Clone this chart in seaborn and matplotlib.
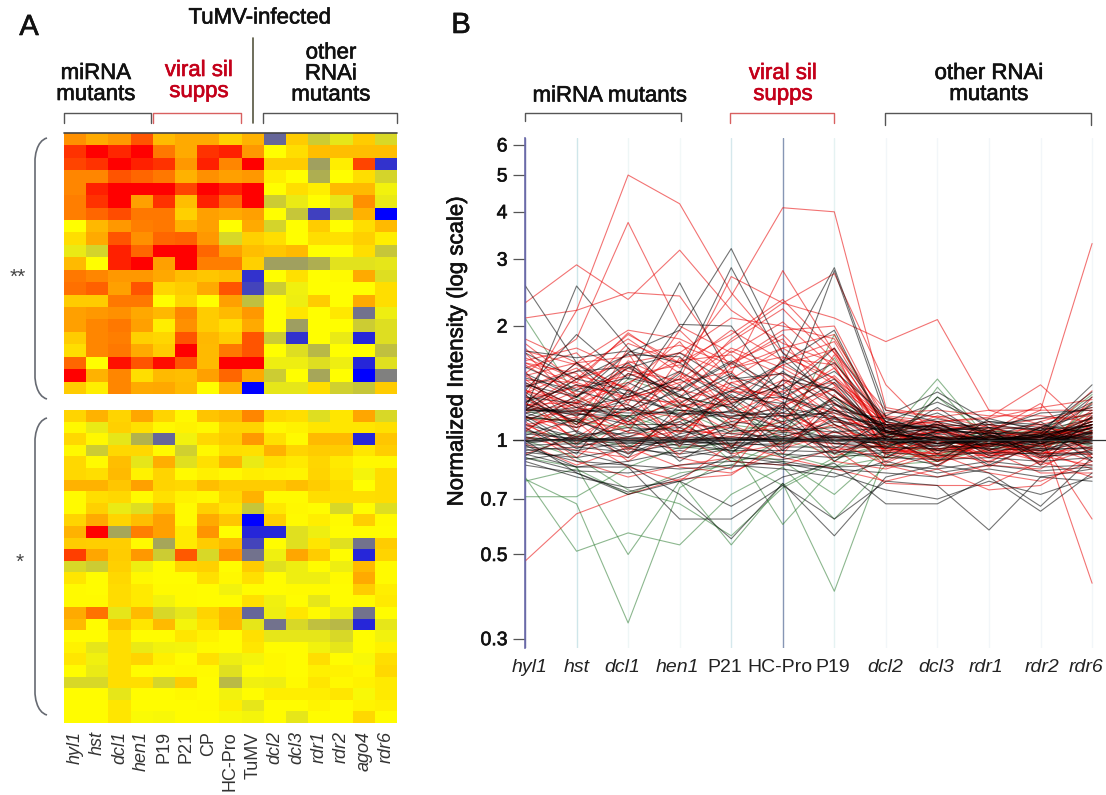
import matplotlib
matplotlib.use("Agg")
import matplotlib.pyplot as plt
import matplotlib.patheffects as pe
from matplotlib.colors import LinearSegmentedColormap
from matplotlib.path import Path
from matplotlib.patches import PathPatch
import seaborn as sns
import pandas as pd
import numpy as np

# heatmap columns
heat_labels = ["hyl1", "hst", "dcl1", "hen1", "P19", "P21", "CP", "HC-Pro", "TuMV",
               "dcl2", "dcl3", "rdr1", "rdr2", "ago4", "rdr6"]
upright = ["P19", "P21", "CP", "HC-Pro", "TuMV"]

# values run from -10 (blue) through 0 (yellow) to 10 (red)
heat_top = [
    [4.3, 3.3, 4, 6.7, 2.7, 3.3, 3.3, 1.8, 3, -6, 2, -2, -1, 2, -1.5],
    [8, 10, 8.5, 10, 5.3, 3.3, 8, 8.7, 4, 0, 1.3, 2.5, 2.5, 2.5, 2.5],
    [7.3, 8, 10, 8.7, 8, 4, 8.7, 4.7, 10, 2, 2, -3.7, 0.7, 7.3, -8],
    [4.7, 4.7, 6.7, 6, 5.3, 3, 4.3, 3.7, 4, 0.7, 0, -3.2, 0, 1.3, -1.7],
    [4.7, 8.7, 10, 10, 10, 7.3, 10, 8.7, 10, 0, 1.3, 0.7, 2.7, 2.7, -0.5],
    [5, 8, 10, 3.7, 8, 2.5, 8.7, 6, 10, -2, -0.8, 0, -1, 4.3, -0.8],
    [5, 6, 7, 5.3, 5.3, 1.8, 3.7, 3.3, 3.7, 0, -2.2, -7.5, -2.5, 3, -10],
    [0, 2.8, 4, 5, 5.3, 3, 3.7, 0, 3.3, -1.7, 0, 2, 0, 1.3, 2.7],
    [1.3, 3.3, 6.7, 4.3, 6, 6.2, 4, -1.5, 1.8, 1.3, 0, 1.3, 1.2, 1.8, 0.7],
    [-0.8, -1.7, 8.7, 6, 10, 10, 6, 3.7, 2.5, 2.2, 2.7, 0, 0, 1.3, -2.2],
    [2.7, 0, 8.7, 10, 3.7, 10, 5, 5, 1.8, -3.7, -3.7, -3.2, -1.1, -1.1, -1],
    [5.3, 4.7, 4, 4, 3.4, 2.5, 2.2, 2.5, -8, 0, 1.2, 0, 0.2, 3.3, -1.3],
    [5.6, 6.2, 3.7, 6.7, 1.6, 2, 3.3, 6.7, -7.3, -2, -0.6, 0, 0, 0, 1.3],
    [2, 2, 5.3, 5.3, 0, 1.6, 0, 3.7, -2.5, 0, -0.7, 2, 0, 3.3, 1.3],
    [3.7, 4, 4.3, 3.4, 2.8, 4.7, 2, 2.7, 4, 0, 1, 0, 0.9, -5.5, -0.7],
    [3.7, 4.7, 5.3, 3.7, 0.7, 4.3, 2, 1.3, 3.3, 0, -3.8, 0, 0, -2, -1.3],
    [2, 4.7, 5, 1.8, 1.6, 6.7, 2.8, 2, 6.7, -2, -8, 0, -0.8, -8.5, -1.3],
    [1.3, 4.7, 5.3, 3.3, 2, 10, 2.7, 5.3, 6.7, 0, -1.3, -2.8, 0, 0, -2.5],
    [6, 0, 9.3, 6.7, 9.5, 6.7, 2.7, 10, 10, -0.7, -0.7, -1.3, -0.7, -8.5, -1.2],
    [10, 3, 4.7, 1.3, 2.7, 2.5, 3.7, 6, 3.3, -2, 0, -3.5, 0, -10, -5],
    [2, 0.7, 4.7, 3.3, 3.4, 2.7, 0, 3, -10, -1, -1, 1.3, -1.8, -2.2, 2],
]
heat_bottom = [
    [1.7, 3, 1.7, 3.5, 1.7, 0.3, 2.3, 2.7, 4.7, 1.5, 1.3, -1.3, 1, 3.5, -1.5],
    [0.3, -0.8, 1.8, 1.2, 0.3, 0.5, 0.3, 1.7, 1.7, 0.3, 0.5, 1, 1, 1, 1.2],
    [1.5, 0.3, -1, -3, -6, -0.5, 1.5, 2, 4, 1.2, 0.2, 2.7, 2.7, -8.5, 2.2],
    [0.3, -2, 1.5, 1.5, 0.2, -1.8, 0.3, 1.3, 1.2, 3, 1.7, 2, 2, 1, 1.9],
    [1.5, 0.2, 2.5, -1, 3.2, -1.2, 1.2, 2.8, -0.8, 1.2, 0.8, 1.6, 0.8, 0.3, 0.3],
    [1.5, 1.3, 2.7, 0.5, 1.7, 0.2, 0.6, 0.3, 0.7, 0.5, 0.4, 1.7, 1, -0.4, 1.4],
    [3, 3, 2.2, 3.7, 1.7, 1.5, 2.5, 2, 2, 2, 2.5, 2, 1.4, 0, 1.4],
    [0.2, 1.3, 1.5, 0.2, 1.2, 0.5, 0.3, 1.5, 3, 0.2, 0.2, 1.3, 1.3, 1.3, 1.4],
    [0.2, 1.8, -0.8, -1.3, 2.5, 0.2, 1.8, 1, -2.2, 0.9, 0.3, 0.1, -1.5, 0.1, -1.3],
    [1.7, 3.3, 1.7, 2.5, 3.7, 0.2, 3.3, 2.2, -10, 1.9, 0.2, 0.7, 0.2, 1.9, 0.2],
    [3, 10, -3.5, 5, 3.7, 0.8, 4.2, 0, -8.5, -8.5, -1.2, -0.7, 0.1, 0.1, 0.1],
    [2, 1.9, 1.9, 0.2, -3.5, 0.8, 2, 2.7, -7.3, 0.1, -1.2, 1, -1.2, -5.5, 2],
    [7.5, 3.5, 2, 4, -2, 6.5, -1.5, 4.2, -5.5, -0.6, 3.5, 2, 0.1, -8.5, 1.7],
    [-1.5, -2, 1.8, -0.7, 0.1, 1.7, 1.8, 0.1, 2, -1.2, -0.7, 0.1, -0.7, 2.7, 0.2],
    [1, 0.1, 1.5, 0.3, 0.1, 0.1, 1.2, 0.3, 1.2, 0.1, -0.7, -0.7, 0.2, 3.3, 0.2],
    [0.2, 0.1, 1.4, 0.8, 0.2, 0.2, 0.1, -0.5, 0.1, 0.1, 0.2, 0.2, 0.1, 2, 0.7],
    [0.2, 0.2, 1.4, 0.8, -0.5, 0.2, 0.1, 0.1, 1.2, -0.6, 0.1, -1, 0.1, 0.2, 0.8],
    [3.3, 5.5, -1, 2.7, -1.5, -1, 1.7, 2.8, -6, -0.7, 1, 0.2, -0.8, -5.5, 0.1],
    [2.7, 0.1, 2.3, 1, 2.7, -0.4, 1.2, 2.7, -1, -5.5, -1.5, -2.5, -2.8, -8.5, -1],
    [0.1, 0.1, 1.3, 0.1, 0.1, 1, 0.5, 0.1, 1.2, -1, -1, -1, -1.5, 0.1, -0.5],
    [0.5, -1, 1.3, -0.8, -0.5, -0.4, 0.2, 0.1, 1, 0.1, 0.1, -0.5, -1, 0.1, 0.5],
    [1, -0.6, 1.3, 1.7, 0.6, 0.1, 1.2, -0.7, -0.4, 0.3, 0.1, 1.3, 0.1, -0.3, 1.3],
    [0.1, -0.8, 1.3, 0.1, 0.2, 0.3, 0.2, -1.2, 0.1, 0.3, 0.1, 0.6, 0.5, 0.3, 1.5],
    [-1.5, -1.5, 1.3, 1.3, -1.6, 2, 0.1, -2.7, -0.6, -0.7, 0.2, 1, 0.3, 0.5, 0.8],
    [0.1, 0.1, -1, 0.1, 0.1, 0.3, 0.1, -0.5, 0.1, 0.7, 0.7, 0.7, 1, -0.3, 0.8],
    [0.1, 0.1, 1, 0.1, 0.1, 0.1, 0.2, 0.7, -1, 0.1, 0.1, 0.4, 0.1, 0.4, 0.6],
    [0.1, 0.1, 1, -0.2, -0.3, 0.1, 0.1, -0.3, -0.4, 0.1, -1, 0.1, 0.1, 1.5, 0.1],
]

# line chart columns
line_labels = ["hyl1", "hst", "dcl1", "hen1", "P21", "HC-Pro", "P19",
               "dcl2", "dcl3", "rdr1", "rdr2", "rdr6"]

red_lines = [
    [1.30, 2.20, 5.00, 4.20, 2.45, 1.70, 1.40, 1.12, 1.05, 1.00, 1.02, 1.08],
    [1.50, 1.85, 3.75, 2.00, 1.70, 2.05, 1.55, 1.05, 1.10, 0.98, 1.00, 1.12],
    [1.20, 1.45, 1.90, 1.60, 2.40, 4.10, 4.00, 1.22, 1.15, 1.05, 0.98, 1.05],
    [2.30, 2.90, 2.35, 3.17, 2.20, 1.80, 1.60, 1.10, 1.00, 1.02, 1.05, 1.00],
    [2.10, 2.20, 2.45, 2.40, 1.55, 1.75, 1.45, 1.15, 1.08, 0.96, 1.03, 1.10],
    [1.35, 1.25, 1.55, 1.30, 1.15, 1.30, 1.18, 1.02, 1.05, 1.05, 1.20, 3.30],
    [1.40, 1.20, 1.50, 1.35, 1.85, 2.30, 2.10, 1.82, 2.08, 1.20, 1.10, 1.00],
    [1.60, 1.40, 1.30, 1.45, 2.70, 2.30, 2.75, 1.40, 1.02, 1.00, 1.02, 1.15],
    [1.25, 1.60, 1.35, 1.70, 1.50, 2.80, 1.70, 1.10, 1.06, 1.10, 1.05, 0.95],
    [1.10, 1.15, 1.05, 1.00, 1.02, 1.00, 0.98, 0.95, 0.92, 0.98, 1.05, 0.42],
    [0.48, 0.64, 0.72, 0.79, 0.81, 1.00, 1.02, 0.95, 0.95, 0.97, 1.00, 0.62],
    [1.85, 1.60, 1.95, 1.85, 1.60, 1.95, 2.00, 1.10, 1.12, 1.15, 1.40, 1.05],
    [1.75, 1.30, 1.80, 1.60, 1.90, 2.35, 1.70, 1.20, 1.15, 1.20, 1.20, 1.20],
    [1.65, 1.45, 1.60, 1.70, 2.10, 2.00, 1.85, 1.15, 1.10, 1.05, 1.25, 0.90],
    [1.55, 1.70, 1.25, 1.95, 1.45, 1.75, 1.90, 1.08, 1.00, 0.95, 0.90, 1.30],
    [1.45, 1.15, 1.62, 1.40, 1.75, 1.55, 1.30, 1.12, 1.02, 0.93, 0.97, 1.08],
    [1.70, 1.25, 1.40, 1.82, 1.25, 1.40, 1.75, 1.05, 0.96, 1.08, 1.00, 1.15],
    [1.38, 1.55, 1.20, 1.15, 1.60, 1.85, 1.22, 0.98, 1.06, 1.00, 0.92, 1.02],
    [1.52, 1.05, 1.75, 1.25, 1.05, 1.65, 1.58, 0.92, 1.10, 1.04, 1.08, 0.98],
    [1.28, 1.38, 1.48, 1.58, 1.36, 1.22, 1.48, 1.10, 0.90, 0.98, 1.12, 1.22],
    [1.60, 1.50, 1.10, 1.30, 1.72, 1.48, 1.10, 0.95, 1.04, 0.90, 1.02, 1.35],
    [1.18, 1.35, 1.70, 1.05, 1.28, 1.58, 1.35, 1.05, 0.98, 1.10, 0.96, 1.06],
    [1.32, 0.98, 1.28, 1.42, 1.52, 1.10, 1.68, 1.00, 0.94, 1.02, 1.06, 0.94],
    [1.42, 1.22, 1.05, 1.65, 1.18, 1.35, 1.42, 1.14, 1.08, 0.95, 0.88, 1.10],
    [1.22, 1.48, 1.38, 0.98, 1.42, 1.26, 0.96, 0.90, 1.00, 1.06, 1.10, 1.18],
    [1.15, 1.08, 1.58, 1.22, 0.95, 1.45, 1.25, 1.08, 1.12, 0.92, 0.98, 0.88],
    [1.48, 1.28, 0.95, 1.12, 1.30, 1.05, 1.15, 0.98, 0.86, 1.00, 1.04, 1.25],
    [1.08, 1.18, 1.30, 1.38, 1.10, 1.18, 1.05, 1.02, 1.05, 1.12, 0.90, 1.00],
    [1.12, 0.90, 1.15, 1.48, 1.22, 0.92, 1.32, 0.94, 0.92, 0.88, 1.00, 1.12],
    [1.25, 1.12, 0.88, 1.08, 1.02, 1.12, 0.90, 1.06, 0.98, 1.04, 0.86, 0.95],
    [1.05, 1.32, 1.08, 0.92, 1.15, 1.02, 1.10, 0.88, 1.02, 0.96, 1.08, 1.04],
    [0.98, 0.86, 0.96, 0.85, 0.82, 0.95, 1.05, 0.96, 0.90, 0.94, 0.82, 0.82],
    [1.08, 0.88, 0.80, 0.86, 0.90, 1.08, 0.88, 0.84, 0.92, 0.82, 0.78, 0.88],
    [0.92, 1.02, 0.85, 0.78, 0.98, 0.90, 0.84, 0.78, 0.84, 0.74, 0.76, 0.92],
    [1.02, 0.94, 0.90, 1.02, 0.88, 0.86, 0.95, 0.77, 0.76, 0.76, 0.88, 0.80],
    [1.16, 1.02, 1.22, 0.90, 0.84, 1.22, 1.00, 0.86, 0.80, 0.86, 0.84, 1.02],
    [1.36, 1.18, 1.12, 1.28, 0.92, 0.98, 1.20, 1.00, 0.88, 0.92, 0.94, 0.84],
    [1.20, 1.24, 0.94, 1.18, 1.38, 1.30, 1.08, 1.16, 1.12, 1.14, 1.22, 1.28],
    [1.10, 0.96, 1.02, 1.10, 1.08, 1.40, 0.92, 1.18, 1.20, 1.16, 1.16, 1.12],
    [1.30, 1.10, 1.34, 0.96, 1.48, 1.14, 1.38, 1.04, 1.16, 1.08, 1.14, 1.16],
    [1.80, 1.42, 1.92, 1.55, 1.95, 1.62, 1.82, 1.08, 0.92, 1.02, 0.94, 1.10],
    [1.62, 1.75, 1.52, 1.44, 1.82, 2.22, 1.62, 1.02, 0.98, 0.90, 1.06, 1.02],
    [1.48, 1.60, 1.66, 1.78, 1.58, 1.90, 1.40, 0.96, 0.88, 0.98, 0.92, 0.96],
    [1.33, 1.52, 1.85, 1.50, 1.34, 1.58, 1.74, 0.90, 1.03, 0.94, 1.01, 1.08],
    [1.58, 1.32, 1.42, 1.62, 1.68, 1.28, 1.55, 1.03, 0.85, 1.05, 0.89, 1.18],
    [1.44, 1.42, 1.28, 1.26, 1.42, 1.50, 1.26, 0.93, 1.07, 0.87, 1.05, 0.90],
    [1.72, 1.58, 1.36, 1.22, 1.55, 1.66, 1.46, 1.06, 0.93, 1.01, 0.87, 1.04],
    [1.24, 1.26, 1.58, 1.36, 1.26, 1.44, 1.16, 0.87, 1.00, 0.90, 0.95, 1.14],
    [1.36, 1.08, 1.20, 1.52, 1.12, 1.24, 1.36, 1.00, 0.89, 1.03, 0.93, 0.92],
    [1.20, 1.40, 1.10, 1.24, 1.24, 1.06, 1.22, 0.92, 1.01, 0.85, 0.99, 1.06],
    [1.14, 1.20, 1.24, 1.04, 1.34, 1.34, 1.12, 1.09, 0.95, 0.97, 1.09, 1.00],
    [1.06, 1.26, 0.92, 1.16, 0.96, 1.16, 1.02, 0.99, 1.09, 0.91, 0.97, 1.20],
    [1.26, 1.00, 1.12, 1.00, 1.10, 0.96, 1.16, 0.85, 0.95, 0.93, 1.03, 1.10],
    [1.00, 1.14, 1.00, 1.06, 1.04, 1.08, 0.94, 0.97, 1.11, 1.07, 0.91, 0.86],
]

black_lines = [
    [2.56, 1.60, 1.20, 1.35, 1.60, 1.30, 1.20, 1.05, 1.00, 1.02, 0.98, 1.05],
    [1.20, 2.55, 1.75, 1.30, 1.50, 1.15, 1.25, 1.02, 0.98, 1.00, 1.03, 1.10],
    [1.35, 1.90, 1.45, 2.60, 1.45, 1.50, 1.35, 1.05, 1.10, 1.00, 0.95, 1.00],
    [1.25, 1.60, 1.30, 2.02, 2.00, 1.30, 1.15, 1.00, 1.02, 0.96, 1.00, 1.05],
    [1.40, 1.30, 1.70, 1.95, 3.20, 1.70, 1.25, 1.10, 1.08, 1.03, 1.00, 1.08],
    [1.30, 1.25, 1.20, 1.50, 2.85, 1.60, 1.95, 1.05, 1.00, 0.98, 0.94, 0.96],
    [1.20, 1.45, 1.35, 1.15, 1.35, 1.60, 2.85, 1.20, 1.12, 1.05, 1.00, 1.15],
    [1.15, 1.30, 1.55, 1.70, 1.40, 1.20, 2.80, 1.15, 1.02, 1.00, 1.00, 1.02],
    [1.72, 1.65, 1.72, 1.60, 1.30, 1.25, 1.45, 1.02, 1.22, 1.00, 1.04, 1.40],
    [1.70, 1.45, 1.68, 1.66, 1.25, 1.40, 1.10, 0.98, 1.30, 1.08, 1.02, 1.30],
    [1.50, 1.30, 1.60, 1.25, 1.48, 1.32, 1.75, 1.12, 1.26, 1.10, 1.14, 1.22],
    [1.42, 1.22, 1.30, 1.45, 1.20, 1.52, 1.20, 1.06, 1.02, 0.94, 1.08, 1.18],
    [1.28, 1.12, 1.42, 1.22, 1.35, 1.18, 1.42, 1.00, 0.96, 1.05, 0.98, 1.08],
    [1.20, 1.20, 1.18, 1.18, 1.15, 1.22, 1.15, 1.10, 1.08, 1.06, 1.02, 1.10],
    [1.22, 1.18, 1.10, 1.10, 1.20, 1.12, 1.20, 1.14, 1.04, 1.12, 1.10, 1.04],
    [1.18, 1.08, 1.22, 1.02, 1.12, 1.08, 1.05, 1.08, 1.10, 1.00, 1.04, 1.00],
    [1.15, 1.12, 1.02, 1.14, 1.04, 1.02, 1.12, 1.06, 0.98, 1.03, 0.96, 1.06],
    [1.10, 1.02, 1.08, 1.06, 1.00, 1.05, 1.02, 1.04, 1.00, 0.98, 1.02, 1.02],
    [1.06, 1.00, 1.02, 1.00, 1.02, 1.00, 1.00, 1.02, 1.04, 1.00, 1.00, 1.04],
    [1.04, 1.01, 1.00, 1.01, 1.00, 1.01, 1.03, 1.00, 1.02, 1.02, 0.98, 1.00],
    [1.02, 0.99, 1.01, 1.02, 1.01, 0.99, 1.01, 0.98, 1.00, 0.99, 1.01, 0.98],
    [1.00, 1.00, 0.98, 0.99, 0.98, 1.00, 0.99, 1.01, 0.97, 1.01, 0.99, 1.03],
    [0.98, 1.02, 1.00, 0.97, 1.00, 1.02, 0.98, 0.99, 0.99, 0.97, 1.03, 0.97],
    [0.97, 0.98, 0.96, 1.00, 0.97, 0.98, 1.02, 0.97, 1.01, 1.00, 0.97, 1.01],
    [0.96, 0.94, 0.99, 0.95, 0.99, 0.96, 0.96, 0.96, 0.95, 0.98, 0.95, 0.95],
    [0.94, 0.96, 0.93, 0.98, 0.94, 0.94, 0.93, 0.94, 0.97, 0.95, 0.94, 0.99],
    [0.93, 0.90, 0.95, 0.92, 0.96, 0.92, 0.90, 0.93, 0.91, 0.93, 0.92, 0.93],
    [0.92, 0.85, 0.88, 0.94, 0.90, 0.89, 0.94, 0.90, 0.89, 0.90, 0.88, 0.90],
    [0.90, 0.83, 0.82, 0.86, 0.88, 0.86, 0.85, 0.86, 0.84, 0.88, 0.85, 0.86],
    [0.88, 0.80, 0.75, 0.78, 0.85, 0.88, 0.84, 0.82, 0.80, 0.84, 0.80, 0.84],
    [0.86, 0.82, 0.73, 0.80, 0.91, 0.87, 0.82, 0.74, 0.70, 0.78, 0.72, 0.80],
    [1.00, 0.82, 0.72, 0.78, 0.67, 0.80, 0.87, 0.68, 0.68, 0.80, 0.65, 0.82],
    [0.97, 0.85, 0.85, 0.62, 0.62, 0.76, 0.62, 0.78, 0.76, 0.58, 0.80, 0.78],
    [0.95, 0.88, 0.86, 0.72, 0.55, 0.77, 0.56, 0.80, 0.86, 0.82, 0.67, 0.90],
    [1.26, 1.40, 1.32, 1.52, 1.28, 1.30, 1.52, 1.16, 1.34, 1.12, 1.08, 1.26],
    [1.34, 1.10, 1.50, 1.32, 1.08, 1.44, 1.36, 1.06, 1.14, 1.06, 1.18, 1.20],
    [1.46, 1.35, 1.24, 1.08, 1.32, 1.10, 1.28, 1.02, 0.94, 0.92, 1.00, 1.12],
    [1.12, 1.28, 1.12, 1.40, 0.96, 1.26, 0.98, 0.96, 1.06, 1.04, 0.90, 0.94],
    [1.08, 0.92, 1.36, 1.16, 1.25, 0.94, 1.24, 1.10, 0.92, 1.14, 1.06, 1.14],
    [1.32, 1.05, 0.90, 1.24, 1.14, 1.16, 0.92, 1.03, 1.08, 0.91, 0.93, 1.05],
    [1.18, 1.22, 1.14, 0.88, 1.06, 1.06, 1.08, 0.92, 0.86, 1.02, 1.12, 0.92],
    [1.14, 0.95, 1.06, 1.08, 0.92, 1.24, 0.88, 1.08, 1.02, 0.86, 0.98, 1.08],
    [0.99, 1.06, 0.92, 1.04, 1.10, 0.90, 1.06, 0.90, 1.06, 1.08, 0.86, 1.16],
    [1.03, 1.14, 0.97, 0.90, 0.95, 1.04, 0.95, 1.12, 0.94, 0.96, 1.08, 0.88],
    [1.16, 0.97, 1.16, 0.98, 1.08, 0.97, 1.14, 0.95, 1.12, 0.94, 1.02, 1.12],
    [0.91, 1.04, 1.04, 1.12, 0.93, 1.10, 1.00, 1.01, 0.88, 1.06, 0.91, 0.92],
    [1.24, 1.16, 1.28, 1.20, 1.18, 1.08, 1.30, 1.07, 1.09, 1.10, 1.06, 1.34],
    [0.89, 0.93, 0.86, 0.84, 0.86, 0.84, 0.80, 0.88, 0.82, 0.86, 0.83, 0.85],
    [1.56, 1.36, 1.46, 1.36, 1.62, 1.36, 1.60, 1.12, 1.06, 0.99, 1.03, 1.24],
    [1.38, 1.52, 1.56, 1.30, 1.22, 1.62, 1.30, 1.08, 1.18, 1.03, 0.99, 1.10],
    [1.20, 1.19, 1.21, 1.17, 1.19, 1.16, 1.18, 1.09, 1.06, 1.08, 1.07, 1.09],
    [1.21, 1.17, 1.16, 1.20, 1.16, 1.18, 1.14, 1.05, 1.07, 1.04, 1.05, 1.07],
    [1.01, 1.00, 1.01, 0.99, 1.00, 1.01, 1.00, 1.00, 1.01, 1.01, 1.00, 1.01],
    [0.99, 1.01, 0.99, 1.00, 1.01, 1.00, 1.02, 1.01, 0.98, 1.00, 1.02, 0.99],
]

green_lines = [
    [2.10, 1.30, 1.15, 1.25, 1.10, 1.05, 1.30, 1.02, 1.45, 1.00, 1.04, 1.32],
    [0.78, 0.84, 0.72, 0.82, 0.86, 1.00, 0.92, 0.90, 1.38, 0.97, 0.92, 1.26],
    [0.71, 0.71, 0.85, 0.96, 0.94, 0.88, 0.72, 0.95, 1.30, 1.02, 1.00, 1.10],
    [0.79, 0.68, 0.33, 0.75, 0.90, 0.76, 0.90, 0.98, 0.92, 0.98, 0.96, 1.02],
    [0.80, 0.51, 0.57, 0.53, 0.72, 0.85, 0.62, 0.86, 0.88, 0.95, 0.98, 1.00],
    [0.90, 0.85, 0.50, 0.78, 0.53, 0.77, 0.40, 0.93, 0.90, 1.04, 1.06, 0.96],
    [1.00, 0.90, 0.74, 0.68, 0.56, 0.75, 0.88, 1.05, 0.98, 1.06, 1.04, 1.06],
    [1.02, 0.98, 1.10, 0.96, 0.98, 0.60, 0.85, 1.00, 1.02, 1.02, 1.00, 1.12],
    [1.15, 1.12, 1.08, 1.20, 1.05, 1.12, 1.65, 1.00, 0.94, 1.08, 0.98, 1.04],
    [1.20, 1.10, 1.45, 1.30, 1.22, 1.00, 1.90, 1.05, 0.88, 1.00, 1.02, 1.18],
    [1.14, 1.13, 1.16, 1.05, 1.30, 0.98, 1.10, 0.96, 0.94, 1.02, 1.00, 0.98],
    [1.05, 1.03, 0.96, 1.15, 0.88, 0.92, 0.85, 0.90, 0.91, 0.98, 1.03, 1.14],
]

# heatmap colours, blue through grey to yellow, then on to red
heat_cmap = LinearSegmentedColormap.from_list("byr", ["#0000ff", "#ffff00", "#ff0000"])
red = "#c4001a"
W, H = 1106, 795
# thickens the thin Liberation strokes a little
heavier = [pe.withStroke(linewidth=0.45, foreground="#111111")]

sns.set_theme(style="white")
plt.rcParams["font.family"] = ["Liberation Sans", "DejaVu Sans"]


def px_axes(left, top, right, bottom):
    return fig.add_axes([left / W, 1 - bottom / H, (right - left) / W, (bottom - top) / H])


fig = plt.figure(figsize=(W / 100, H / 100), dpi=100, facecolor="white")

# A: two heatmap blocks
ax_top = px_axes(64, 133, 397, 394)
sns.heatmap(pd.DataFrame(heat_top, columns=heat_labels), cmap=heat_cmap, vmin=-10, vmax=10,
            cbar=False, ax=ax_top, xticklabels=False, yticklabels=False)
ax_bottom = px_axes(64, 410, 397, 723)
sns.heatmap(pd.DataFrame(heat_bottom, columns=heat_labels), cmap=heat_cmap, vmin=-10, vmax=10,
            cbar=False, ax=ax_bottom, yticklabels=False)
ax_top.axhline(0, color="#444444", lw=1.2, clip_on=False)
ax_bottom.tick_params(axis="x", length=0, pad=6)
for t in ax_bottom.get_xticklabels():
    t.set_rotation(90)
    t.set_va("top")
    t.set_fontsize(13)
    t.set_color("#333333")
    t.set_style("normal" if t.get_text() in upright else "italic")

# B: normalized intensity profiles
rows = []
for group, lines in [("green", green_lines), ("red", red_lines), ("black", black_lines)]:
    for i, line in enumerate(lines):
        for j, v in enumerate(line):
            rows.append({"gene": f"{group}{i}", "group": group, "pos": j, "value": v})
profiles = pd.DataFrame(rows)

ax = px_axes(525, 138, 1106, 648)
guide_colors = ["#6a6aa8", "#cfe6ea", "#eef6f6", "#f2f8f8", "#d5e8ec", "#8696b4",
                "#e5f2f2", "#f2f6f9", "#f2f6f9", "#f2f6f9", "#f2f6f9", "#f2f6f9"]
for j, c in enumerate(guide_colors):
    ax.axvline(j, color=c, lw=1.0, zorder=0)
sns.lineplot(data=profiles, x="pos", y="value", hue="group", units="gene", estimator=None,
             palette={"green": "#2f7d33", "red": "#e80000", "black": "#000000"},
             hue_order=["green", "red", "black"], sort=False, lw=0.8, alpha=0.55,
             legend=False, ax=ax)
ax.axhline(1, color="#333333", lw=0.9, zorder=5)
ax.plot([-0.235, 0], [1, 1], color="#333333", lw=0.9, clip_on=False)
ax.set_yscale("log")
ax.set_xlim(0, 11.27)
ax.set_ylim(0.2835, 6.26)
y_ticks = [0.3, 0.5, 0.7, 1, 2, 3, 4, 5, 6]
ax.set_yticks(y_ticks)
ax.set_yticklabels(["0.3", "0.5", "0.7", "1", "2", "3", "4", "5", "6"], fontsize=14, color="#111111",
                   path_effects=heavier)
ax.minorticks_off()
ax.tick_params(axis="y", left=True, length=8.5, width=0.9, color="#555555", pad=4)
ax.set_xticks([])
ax.set_xlabel("")
ax.set_ylabel("")
sns.despine(ax=ax, top=True, right=True, bottom=True)
ax.spines["left"].set_color("#6a6aa8")
ax.spines["left"].set_linewidth(1.2)

# overlay in pixel coordinates for brackets and annotation text
ov = fig.add_axes([0, 0, 1, 1], facecolor="none")
ov.set_xlim(0, W)
ov.set_ylim(H, 0)
ov.axis("off")


def bracket(x0, x1, top, bottom, color="#555555"):
    ov.plot([x0, x0, x1, x1], [bottom, top, top, bottom], color=color, lw=1.0)


def label(x, y, s, color="#111111", size=16, heavy=True, **kw):
    effects = [pe.withStroke(linewidth=0.45, foreground=color)] if heavy else []
    ov.text(x, y, s, color=color, fontsize=size, ha="center", va="center", path_effects=effects, **kw)


def brace(top, bottom):
    x0, x1 = 47, 35
    verts = [(x0, top), (x1 + 1, top + 3), (x1, top + 20), (x1, top + 22),
             (x1, bottom - 22), (x1, bottom - 20), (x1 + 1, bottom - 3), (x0, bottom)]
    codes = [Path.MOVETO, Path.CURVE4, Path.CURVE4, Path.CURVE4,
             Path.LINETO, Path.CURVE4, Path.CURVE4, Path.CURVE4]
    ov.add_patch(PathPatch(Path(verts, codes), fc="none", ec="#666a72", lw=1.2))


label(29, 27, "A", size=21)
label(461, 25, "B", size=21)
label(260, 18, "TuMV-infected")
label(96, 84, "miRNA\nmutants", linespacing=1.0)
label(199, 81, "viral sil\nsupps", color=red, linespacing=1.0)
label(331, 74, "other\nRNAi\nmutants", linespacing=1.0)
bracket(64, 151, 113, 123)
bracket(153, 241, 113, 123, color="#d86060")
bracket(263, 397, 113, 123)
ov.plot([253, 253], [38, 123], color="#555540", lw=1.2)
brace(138, 399)
brace(418, 715)
label(18, 277, "**", size=15, color="#444444", heavy=False)
label(20, 562, "*", size=15, color="#444444", heavy=False)

label(610, 96, "miRNA mutants")
label(783, 84, "viral sil\nsupps", color=red, linespacing=1.0)
label(989, 84, "other RNAi\nmutants", linespacing=1.0)
bracket(525, 681, 113, 121)
bracket(730, 834, 113, 123, color="#d86060")
bracket(885, 1091, 113, 125)
label(457, 351, "Normalized Intensity (log scale)", rotation=90)

line_label_x = [530, 577, 622, 677, 725, 780, 833, 885, 936, 986, 1042, 1086]
for x, s in zip(line_label_x, line_labels):
    label(x, 667, s, size=14, style="normal" if s in upright else "italic", color="#222222", heavy=False)

plt.savefig("out.png", dpi=100)
plt.close()
